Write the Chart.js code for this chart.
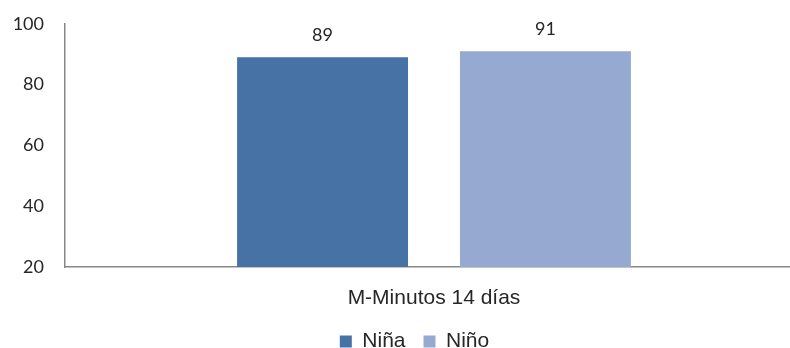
<!DOCTYPE html>
<html>
<head>
<meta charset="utf-8">
<script src="https://cdn.jsdelivr.net/npm/chart.js@4/dist/chart.umd.min.js"></script>
<style>
  html, body { margin: 0; padding: 0; background: #fff; overflow: hidden; }
  #wrap { width: 790px; height: 348px; overflow: hidden; position: relative; }
  #chart { position: absolute; left: 0; top: -8px; }
</style>
</head>
<body>
<div id="wrap"><canvas id="chart" width="805" height="370"></canvas></div>
<script>
// Categories, series and axis ticks
const categories = ['M-Minutos 14 días'];
const seriesNames = ['Niña', 'Niño'];
const ninaValues = [89];
const ninoValues = [91];
const yTicks = [20, 40, 60, 80, 100];

const colors = ['#4672a6', '#95a9d1'];
const axisColor = '#888888';
const textColor = '#262626';

// Writes each bar's value above it
const valueLabels = {
  id: 'valueLabels',
  afterDatasetsDraw(chart) {
    const ctx = chart.ctx;
    ctx.save();
    ctx.font = '18px Lato';
    ctx.fillStyle = textColor;
    ctx.textAlign = 'center';
    ctx.textBaseline = 'middle';
    chart.data.datasets.forEach((ds, i) => {
      chart.getDatasetMeta(i).data.forEach((bar, j) => {
        ctx.fillText(String(ds.data[j]), bar.x, bar.y - 22);
      });
    });
    ctx.restore();
  }
};

// Nudges the legend row so it sits under the bar group
const legendShift = {
  id: 'legendShift',
  afterLayout(chart) {
    if (chart.legend) {
      chart.legend.left += 13;
      chart.legend.right += 13;
    }
  }
};

new Chart(document.getElementById('chart'), {
  type: 'bar',
  data: {
    labels: categories,
    datasets: [
      { label: seriesNames[0], data: ninaValues, backgroundColor: colors[0], borderWidth: 0 },
      { label: seriesNames[1], data: ninoValues, backgroundColor: colors[1], borderWidth: 0 }
    ]
  },
  options: {
    responsive: false,
    animation: false,
    layout: { padding: { left: 0, right: 2, top: 16, bottom: 0 } },
    categoryPercentage: 0.604,
    barPercentage: 0.767,
    scales: {
      x: {
        grid: { display: false, drawTicks: false },
        border: { display: true, color: axisColor, width: 1.5 },
        ticks: { color: textColor, font: { family: 'Liberation Sans', size: 21 }, padding: 19 },
        afterFit(scale) { scale.height = 46; }
      },
      y: {
        min: 20,
        max: 100,
        afterBuildTicks(scale) { scale.ticks = yTicks.map(v => ({ value: v })); },
        grid: { display: false, drawTicks: false },
        border: { display: true, color: axisColor, width: 1.5 },
        ticks: { color: textColor, font: { family: 'Lato', size: 18 }, padding: 21 },
        afterFit(scale) { scale.width = 65; }
      }
    },
    plugins: {
      legend: {
        position: 'bottom',
        labels: {
          color: textColor,
          font: { family: 'Liberation Sans', size: 21 },
          boxWidth: 12,
          boxHeight: 12,
          padding: 18
        }
      },
      tooltip: { enabled: false }
    }
  },
  plugins: [valueLabels, legendShift]
});
</script>
</body>
</html>
